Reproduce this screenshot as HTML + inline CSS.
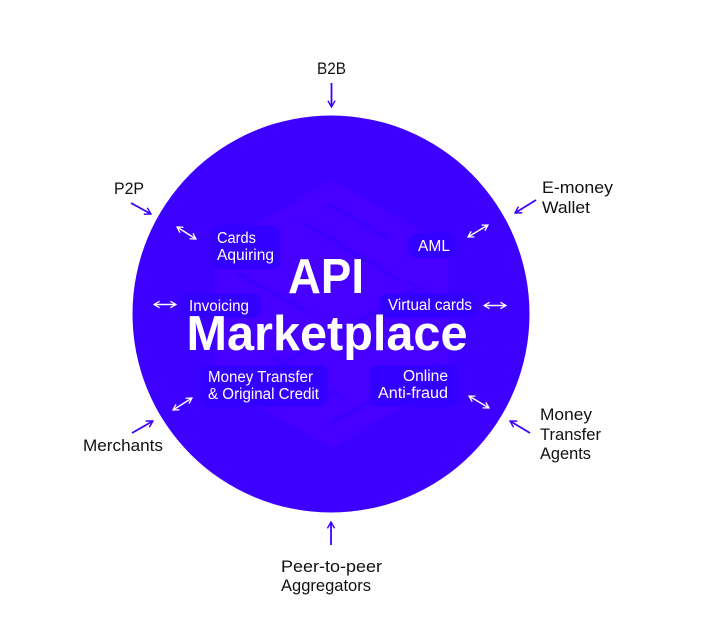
<!DOCTYPE html>
<html><head><meta charset="utf-8"><style>
html,body{margin:0;padding:0;background:#fff}
svg{display:block}
text{font-family:"Liberation Sans",sans-serif}
.o{font-size:16.5px;fill:#111}
.w{font-size:15.5px;fill:#fff}
.t{font-size:49px;font-weight:bold;fill:#fff}
</style></head><body>
<svg width="704" height="642" viewBox="0 0 704 642" xmlns="http://www.w3.org/2000/svg">
<defs>
<marker id="p" viewBox="0 0 10 10" refX="9" refY="5" markerWidth="9" markerHeight="9" markerUnits="userSpaceOnUse" orient="auto-start-reverse"><path d="M2 1L9 5L2 9" fill="none" stroke="#3d00ff" stroke-width="1.6"/></marker>
<marker id="q" viewBox="0 0 10 10" refX="9" refY="5" markerWidth="8" markerHeight="8" markerUnits="userSpaceOnUse" orient="auto-start-reverse"><path d="M2 1L9 5L2 9" fill="none" stroke="#fff" stroke-width="1.6"/></marker>
</defs>
<circle cx="331" cy="314" r="198.5" fill="#3d00ff"/>
<path d="M332 180L448 247V381L332 448L215 381V247Z" fill="#4700ff"/>
<g stroke="#3d00ff" stroke-width="4" fill="none">
<path d="M328 204L388 238M302 222L400 280M236 272L310 314M408 282L440 300M260 376L332 336L420 286M330 424L440 362M270 356L345 400"/>
</g>
<g fill="#3300ff">
<rect x="211" y="225" width="69" height="44" rx="8"/>
<rect x="181" y="293" width="80" height="25" rx="8"/>
<rect x="408" y="233" width="48" height="25" rx="8"/>
<rect x="380" y="293" width="97" height="25" rx="8"/>
<rect x="200" y="365" width="128" height="42" rx="8"/>
<rect x="370" y="365" width="89" height="42" rx="8"/>
</g>
<g stroke="#3d00ff" stroke-width="1.8" fill="none">
<line x1="331.5" y1="83" x2="331.5" y2="107" marker-end="url(#p)"/>
<line x1="131" y1="203" x2="151" y2="214" marker-end="url(#p)"/>
<line x1="536" y1="200" x2="515" y2="213" marker-end="url(#p)"/>
<line x1="132" y1="433" x2="153" y2="421" marker-end="url(#p)"/>
<line x1="530" y1="433" x2="510" y2="421" marker-end="url(#p)"/>
<line x1="331" y1="545" x2="331" y2="522" marker-end="url(#p)"/>
</g>
<g stroke="#fff" stroke-width="1.4" fill="none">
<line x1="177" y1="227" x2="196" y2="239" marker-start="url(#q)" marker-end="url(#q)"/>
<line x1="154" y1="304.500" x2="176" y2="304.500" marker-start="url(#q)" marker-end="url(#q)"/>
<line x1="468" y1="237" x2="488" y2="225" marker-start="url(#q)" marker-end="url(#q)"/>
<line x1="484" y1="305.500" x2="506" y2="305.500" marker-start="url(#q)" marker-end="url(#q)"/>
<line x1="173" y1="410" x2="192" y2="398" marker-start="url(#q)" marker-end="url(#q)"/>
<line x1="469" y1="396" x2="489" y2="408" marker-start="url(#q)" marker-end="url(#q)"/>
</g>
<text class="t" x="326" y="293" text-anchor="middle" textLength="76" lengthAdjust="spacingAndGlyphs">API</text>
<text class="t" x="327" y="350" text-anchor="middle" textLength="281" lengthAdjust="spacingAndGlyphs">Marketplace</text>
<text class="w" x="217" y="243" textLength="39" lengthAdjust="spacingAndGlyphs">Cards</text>
<text class="w" x="217" y="260" textLength="57" lengthAdjust="spacingAndGlyphs">Aquiring</text>
<text class="w" x="189" y="311" textLength="60" lengthAdjust="spacingAndGlyphs">Invoicing</text>
<text class="w" x="418" y="251" textLength="32" lengthAdjust="spacingAndGlyphs">AML</text>
<text class="w" x="388" y="310" textLength="84" lengthAdjust="spacingAndGlyphs">Virtual cards</text>
<text class="w" x="208" y="382" textLength="105" lengthAdjust="spacingAndGlyphs">Money Transfer</text>
<text class="w" x="208" y="399" textLength="111" lengthAdjust="spacingAndGlyphs">&amp; Original Credit</text>
<text class="w" x="403" y="381" textLength="45" lengthAdjust="spacingAndGlyphs">Online</text>
<text class="w" x="378" y="398" textLength="70" lengthAdjust="spacingAndGlyphs">Anti-fraud</text>
<text class="o" x="317" y="74" textLength="29" lengthAdjust="spacingAndGlyphs">B2B</text>
<text class="o" x="114" y="194" textLength="30" lengthAdjust="spacingAndGlyphs">P2P</text>
<text class="o" x="542" y="193" textLength="71" lengthAdjust="spacingAndGlyphs">E-money</text>
<text class="o" x="542" y="213" textLength="48" lengthAdjust="spacingAndGlyphs">Wallet</text>
<text class="o" x="83" y="451" textLength="80" lengthAdjust="spacingAndGlyphs">Merchants</text>
<text class="o" x="540" y="420" textLength="52" lengthAdjust="spacingAndGlyphs">Money</text>
<text class="o" x="540" y="440" textLength="61" lengthAdjust="spacingAndGlyphs">Transfer</text>
<text class="o" x="540" y="459" textLength="51" lengthAdjust="spacingAndGlyphs">Agents</text>
<text class="o" x="281" y="572" textLength="101" lengthAdjust="spacingAndGlyphs">Peer-to-peer</text>
<text class="o" x="281" y="591" textLength="90" lengthAdjust="spacingAndGlyphs">Aggregators</text>
</svg>
</body></html>
